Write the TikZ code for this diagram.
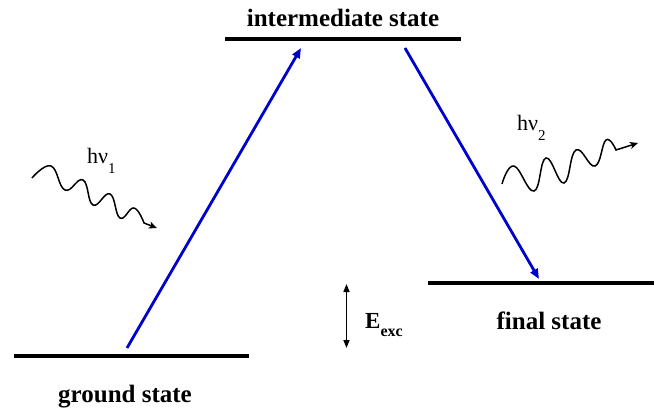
\documentclass[tikz,border=0pt]{standalone}
\usepackage{fontspec}
\setmainfont{Liberation Serif}
\usetikzlibrary{arrows.meta}
\definecolor{trblue}{RGB}{0,0,204}
\begin{document}
\begin{tikzpicture}[x=1pt,y=-1pt,
  level/.style={line width=4pt},
  trans/.style={trblue, line width=2.8pt, -{Triangle[length=10pt,width=8pt]}},
  photon/.style={line width=1.5pt, -{Stealth[length=8pt,width=7pt,inset=2pt]}},
  lab/.style={font=\fontsize{25}{30}\selectfont\bfseries, anchor=base, inner sep=0pt},
  hv/.style={font=\fontsize{22}{26}\selectfont, anchor=base west, inner sep=0pt}]
\useasboundingbox (0,0) rectangle (654,412);

% energy levels
\coordinate (g1) at (14,356);  \coordinate (g2) at (249,356);
\coordinate (i1) at (225,39);  \coordinate (i2) at (461,39);
\coordinate (f1) at (428,283); \coordinate (f2) at (654,283);
\draw[level] (g1) -- (g2);
\draw[level] (i1) -- (i2);
\draw[level] (f1) -- (f2);

% labels
\node[lab] (il) at (343,26.7) {intermediate state};
\node[lab] (gl) at (125,402.5) {ground state};
\node[lab] (fl) at (549,329.5) {final state};

% transitions
\coordinate (a1) at (127,348); \coordinate (a2) at (301,48);
\coordinate (b1) at (405,48);  \coordinate (b2) at (539,279);
\draw[trans] (a1) -- (a2);
\draw[trans] (b1) -- (b2);

% excitation energy
\coordinate (e1) at (346.5,284); \coordinate (e2) at (346.5,348);
\draw[line width=1.5pt, {Triangle[length=8pt,width=6pt]}-{Triangle[length=8pt,width=6pt]}] (e1) -- (e2);
\node[anchor=base west, inner sep=0pt, font=\fontsize{23}{27}\selectfont\bfseries] (el) at (365,328.3)
  {E\raisebox{-8pt}{\fontsize{16}{16}\selectfont exc}};

% photons
\node[hv] (h1) at (87,163.3) {hν\raisebox{-10pt}{\fontsize{15}{15}\selectfont 1}};
\node[hv] (h2) at (517,130.3) {hν\raisebox{-10pt}{\fontsize{15}{15}\selectfont 2}};

\coordinate (w1e) at (157,228);
\draw[photon] plot[smooth, tension=0.75] coordinates
  {(32,178) (51,166) (65,190) (83,180) (93,205) (110,194) (120,218) (134,208) (144,223)} -- (w1e);

\coordinate (w2e) at (638,143);
\draw[photon] plot[smooth, tension=0.75] coordinates
  {(502,184) (514,166) (534,191) (546,158) (564,183) (576,150) (595,166) (606,140) (616,150)} -- (w2e);
\end{tikzpicture}
\end{document}
